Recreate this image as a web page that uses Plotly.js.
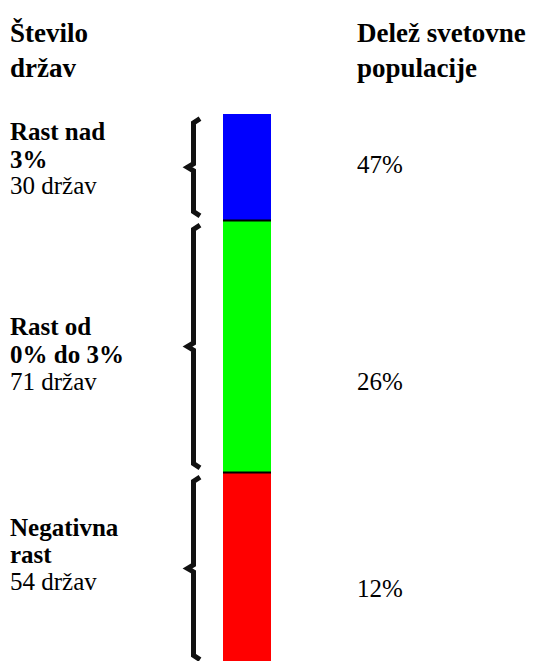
<!DOCTYPE html>
<html>
<head>
<meta charset="utf-8">
<script src="https://cdn.plot.ly/plotly-3.0.1.min.js"></script>
<style>html,body{margin:0;padding:0;background:#fff;}#chart{width:545px;height:661px;}</style>
</head>
<body>
<div id="chart"></div>
<script>
// ---- data ----
const groupNames = ["Negativna rast", "Rast od 0% do 3%", "Rast nad 3%"]; // bottom -> top
const groupHeadLines = [["Negativna", "rast"], ["Rast od", "0% do 3%"], ["Rast nad", "3%"]];
const countryCounts = [54, 71, 30];
const populationShare = [12, 26, 47];
const barColors = ["#ff0000", "#00ff00", "#0000ff"];
const leftTitle = ["Število", "držav"];
const rightTitle = ["Delež svetovne", "populacije"];

// ---- layout helpers ----
const W = 545, H = 661;
const pxX = px => px / W;
const pxY = py => 1 - py / H;
const FONT = "Liberation Serif";

// cumulative bounds
const lows = [], highs = [];
let acc = 0;
countryCounts.forEach(c => { lows.push(acc); acc += c; highs.push(acc); });
const total = acc;

// y scale: top of bar at pixel 115, 3.55 px per unit
const k = 3.55, topPx = 114;
const yTop = total + topPx / k;
const yBot = total - (H - topPx) / k;
// x scale: bar centre at 247px, 60 px per unit
const kx = 60, cx = 247;
const xRange = [-cx / kx, (W - cx) / kx];

const traces = [];
countryCounts.forEach((c, i) => {
  traces.push({
    type: "bar", x: [0], y: [c], width: 0.8, name: groupNames[i],
    marker: { color: barColors[i], line: { width: 0 } },
    hoverinfo: "skip"
  });
});

// separators between segments
const sepX = [], sepY = [];
for (let i = 0; i < countryCounts.length - 1; i++) {
  sepX.push(-0.4, 0.4, null);
  sepY.push(highs[i], highs[i], null);
}
traces.push({ type: "scatter", mode: "lines", x: sepX, y: sepY,
  line: { color: "#000", width: 2 }, hoverinfo: "skip" });

// braces
const bx = (193.5 - cx) / kx, bl = (187.5 - cx) / kx, br = (200 - cx) / kx;
const gap = 1.3, hook = 1.2, kink = 1.0;
const brX = [], brY = [];
countryCounts.forEach((c, i) => {
  const lo = lows[i] + gap, hi = highs[i] - gap, mid = (lows[i] + highs[i]) / 2;
  brX.push(br, bx, bx, bl, bx, bx, br, null);
  brY.push(hi, hi - hook, mid + kink, mid, mid - kink, lo + hook, lo, null);
});
traces.push({ type: "scatter", mode: "lines", x: brX, y: brY,
  line: { color: "#111", width: 5 }, hoverinfo: "skip" });

// annotations
const ann = [];
function addLine(text, xpx, ypx, size) {
  ann.push({ xref: "paper", yref: "paper", x: pxX(xpx), y: pxY(ypx),
    xanchor: "left", yanchor: "middle", showarrow: false, text: text,
    font: { family: FONT, size: size, color: "#000" } });
}
addLine("<b>" + leftTitle[0] + "</b>", 8, 33, 27);
addLine("<b>" + leftTitle[1] + "</b>", 8, 68, 27);
addLine("<b>" + rightTitle[0] + "</b>", 355, 33, 27);
addLine("<b>" + rightTitle[1] + "</b>", 355, 68, 27);

const groupCentersPx = [527, 327, 132]; // first line centre per group (bottom->top order)
const sharePx = [588, 381, 164];
countryCounts.forEach((c, i) => {
  const y0 = groupCentersPx[i];
  addLine("<b>" + groupHeadLines[i][0] + "</b>", 8, y0, 25);
  addLine("<b>" + groupHeadLines[i][1] + "</b>", 8, y0 + 27, 25);
  addLine(c + " držav", 8, y0 + 54, 25);
  addLine(populationShare[i] + "%", 355, sharePx[i], 25);
});

const layout = {
  width: W, height: H,
  margin: { l: 0, r: 0, t: 0, b: 0, pad: 0 },
  paper_bgcolor: "#fff", plot_bgcolor: "#fff",
  barmode: "stack", bargap: 0, showlegend: false,
  font: { family: FONT },
  xaxis: { range: xRange, visible: false, fixedrange: true },
  yaxis: { range: [yBot, yTop], visible: false, fixedrange: true },
  annotations: ann
};
Plotly.newPlot("chart", traces, layout, { displayModeBar: false, staticPlot: true });
</script>
</body>
</html>
